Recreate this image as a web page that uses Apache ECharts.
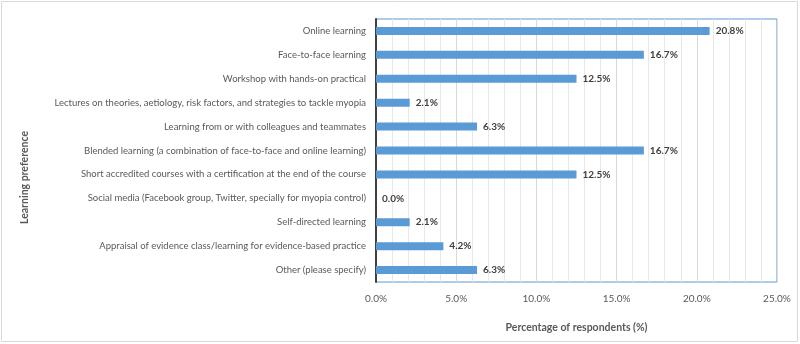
<!DOCTYPE html>
<html>
<head>
<meta charset="utf-8">
<script src="https://cdn.jsdelivr.net/npm/echarts@6/dist/echarts.min.js"></script>
<style>
  html, body { margin: 0; padding: 0; background: #fff; }
  #chart { width: 800px; height: 344px; }
</style>
</head>
<body>
<div id="chart"></div>
<script>
// learning preferences, top to bottom
const categories = [
  'Online learning',
  'Face-to-face learning',
  'Workshop with hands-on practical',
  'Lectures on theories, aetiology, risk factors, and strategies to tackle myopia',
  'Learning from or with colleagues and teammates',
  'Blended learning (a combination of face-to-face and online learning)',
  'Short accredited courses with a certification at the end of the course',
  'Social media (Facebook group, Twitter, specially for myopia control)',
  'Self-directed learning',
  'Appraisal of evidence class/learning for evidence-based practice',
  'Other (please specify)'
]
// percentage of respondents
const values = [20.8, 16.7, 12.5, 2.1, 6.3, 16.7, 12.5, 0.0, 2.1, 4.2, 6.3]

const chart = echarts.init(document.getElementById('chart'))
const font = 'Lato, "Open Sans", sans-serif'

const option = {
  animation: false,
  textStyle: { fontFamily: font },
  graphic: [{
    type: 'rect',
    shape: { x: 1.5, y: 1.5, width: 796, height: 340 },
    style: { fill: 'none', stroke: '#d9d9d9', lineWidth: 1 },
    z: -1
  }],
  grid: {
    left: 376,
    right: 23,
    top: 19,
    bottom: 62,
    containLabel: false,
    show: true,
    borderColor: '#5b9bd5',
    borderWidth: 1
  },
  xAxis: {
    type: 'value',
    min: 0,
    max: 25,
    interval: 5,
    name: 'Percentage of respondents (%)',
    nameLocation: 'middle',
    nameGap: 40,
    nameTextStyle: { fontSize: 10.5, fontWeight: 'bold', color: '#595959', fontFamily: font },
    axisLine: { show: false },
    axisTick: { show: false },
    axisLabel: {
      fontSize: 10,
      color: '#595959',
      margin: 12,
      formatter: v => v.toFixed(1) + '%'
    },
    splitLine: { lineStyle: { color: '#d9d9d9', width: 1 } },
    minorTick: { show: false, splitNumber: 5 },
    minorSplitLine: { show: true, lineStyle: { color: '#e8e8e8', width: 1 } }
  },
  yAxis: {
    type: 'category',
    data: categories,
    inverse: true,
    name: 'Learning preference',
    nameLocation: 'middle',
    nameGap: 346,
    nameMoveOverlap: false,
    nameRotate: 90,
    nameTextStyle: {
      fontSize: 10.5, fontWeight: 'bold', color: '#595959', fontFamily: font,
      padding: [0, 54, 0, 0]
    },
    axisLine: { show: true, lineStyle: { color: '#404040', width: 2 } },
    axisTick: { show: false },
    axisLabel: { fontSize: 9.5, color: '#595959', margin: 10 }
  },
  series: [{
    type: 'bar',
    data: values,
    barWidth: 8,
    itemStyle: { color: '#5b9bd5' },
    label: {
      show: true,
      position: 'right',
      distance: 6,
      fontSize: 10,
      fontWeight: 'bold',
      color: '#404040',
      formatter: p => p.value.toFixed(1) + '%'
    }
  }]
}
chart.setOption(option)
</script>
</body>
</html>
